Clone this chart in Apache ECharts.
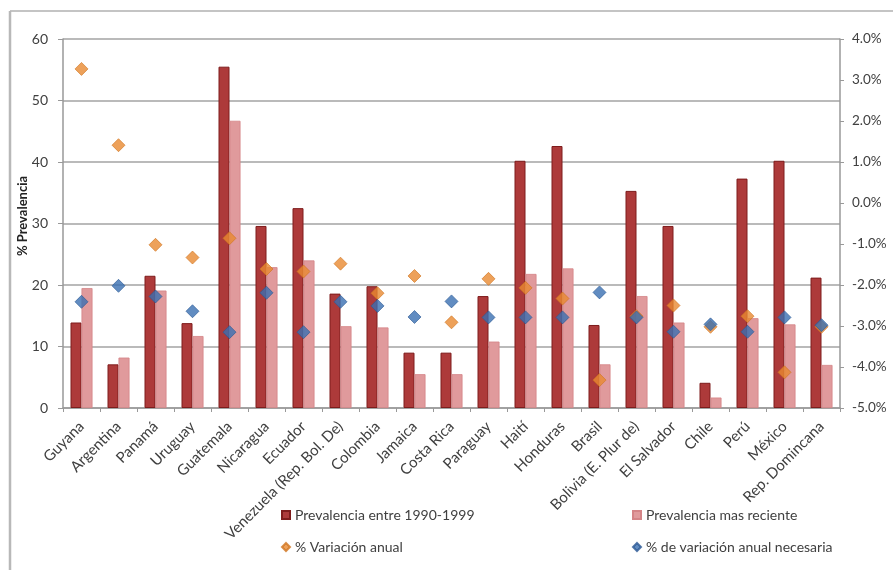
<!DOCTYPE html>
<html>
<head>
<meta charset="utf-8">
<script src="https://cdn.jsdelivr.net/npm/echarts@6/dist/echarts.min.js"></script>
<style>html,body{margin:0;padding:0;background:#fff;}#c{width:893px;height:570px;}</style>
</head>
<body>
<div id="c"></div>
<script>
const categories = ["Guyana","Argentina","Panamá","Uruguay","Guatemala","Nicaragua","Ecuador","Venezuela (Rep. Bol. De)","Colombia","Jamaica","Costa Rica","Paraguay","Haití","Honduras","Brasil","Bolivia (E. Plur de)","El Salvador","Chile","Perú","México","Rep. Domincana"];
const prev1990 = [13.9,7.1,21.5,13.8,55.5,29.6,32.5,18.6,19.8,9.0,9.0,18.2,40.2,42.6,13.5,35.3,29.6,4.1,37.3,40.2,21.2];
const prevReciente = [19.5,8.2,19.1,11.7,46.7,22.9,24.0,13.3,13.1,5.5,5.5,10.8,21.8,22.7,7.1,18.2,13.9,1.7,14.6,13.6,7.0];
const varAnual = [3.27,1.41,-1.02,-1.33,-0.86,-1.61,-1.67,-1.48,-2.20,-1.78,-2.91,-1.85,-2.07,-2.33,-4.32,-2.76,-2.50,-3.02,-2.76,-4.13,-3.02];
const varNecesaria = [-2.41,-2.02,-2.28,-2.64,-3.15,-2.19,-3.15,-2.41,-2.51,-2.78,-2.40,-2.79,-2.79,-2.79,-2.18,-2.79,-3.14,-2.96,-3.14,-2.79,-2.98];
const leftTicks = {min:0,max:60,interval:10};
const rightTicks = {min:-5,max:4,interval:1};
const yTitle = '% Prevalencia';

const FONT = 'Lato';
const TXT = '#404040';
const chart = echarts.init(document.getElementById('c'));
const legendText = {fontFamily: FONT, fontSize: 14, color: TXT};
chart.setOption({
  animation: false,
  textStyle: {fontFamily: FONT},
  graphic: [
    {type:'line', shape:{x1:10,y1:11,x2:900,y2:11}, style:{stroke:'#c4c4c4', lineWidth:2}},
    {type:'line', shape:{x1:10,y1:11,x2:10,y2:600}, style:{stroke:'#b8b8b8', lineWidth:2.5}},
    {type:'text', x:23, y:216, rotation:Math.PI/2,
     style:{text:yTitle, font:'bold 13px Lato', fill:'#222', align:'center', verticalAlign:'middle'}}
  ],
  grid: {left:63, right:53, top:39, bottom:162, containLabel:false, outerBoundsMode:'none'},
  legend: [
    {left:276, top:503, itemWidth:8, itemHeight:8, textStyle:legendText, data:[{name:'Prevalencia entre 1990-1999', icon:'rect'}]},
    {left:627, top:503, itemWidth:8, itemHeight:8, textStyle:legendText, data:[{name:'Prevalencia mas reciente', icon:'rect'}]},
    {left:276, top:535, itemWidth:8, itemHeight:8, textStyle:legendText, data:[{name:'% Variación anual', icon:'diamond'}]},
    {left:627, top:535, itemWidth:8, itemHeight:8, textStyle:legendText, data:[{name:'% de variación anual necesaria', icon:'diamond'}]}
  ],
  xAxis: {
    type:'category', data: categories,
    axisLine:{lineStyle:{color:'#999', width:1.5}},
    axisTick:{show:true, length:4, lineStyle:{color:'#999'}},
    axisLabel:{rotate:45, fontFamily:FONT, fontSize:15, color:TXT, margin:16, interval:0}
  },
  yAxis: [
    {type:'value', min:leftTicks.min, max:leftTicks.max, interval:leftTicks.interval,
     axisLine:{show:true, lineStyle:{color:'#999', width:1.5}},
     axisTick:{show:true, length:5, lineStyle:{color:'#999'}},
     axisLabel:{fontFamily:FONT, fontSize:14, color:TXT, margin:15},
     splitLine:{show:true, lineStyle:{color:'#a3a3a3', width:1.5}}},
    {type:'value', min:rightTicks.min, max:rightTicks.max, interval:rightTicks.interval, position:'right',
     axisLine:{show:true, lineStyle:{color:'#999', width:1.5}},
     axisTick:{show:true, length:4, lineStyle:{color:'#999'}},
     axisLabel:{fontFamily:FONT, fontSize:13.5, color:TXT, margin:12, formatter: v => v.toFixed(1) + '%'},
     splitLine:{show:false}}
  ],
  series: [
    {name:'Prevalencia entre 1990-1999', type:'bar', data: prev1990, barWidth:11, barGap:'0%',
     itemStyle:{color:'#ad3a3a', borderColor:'#7e1c1c', borderWidth:1}},
    {name:'Prevalencia mas reciente', type:'bar', data: prevReciente, barWidth:11,
     itemStyle:{color:'#e09a9c', borderColor:'#d48487', borderWidth:0.8}},
    {name:'% Variación anual', type:'scatter', yAxisIndex:1, data: varAnual, symbol:'diamond', symbolSize:13,
     itemStyle:{color:'#e98a31', borderColor:'#d07420', borderWidth:0.8}},
    {name:'% de variación anual necesaria', type:'scatter', yAxisIndex:1, data: varNecesaria, symbol:'diamond', symbolSize:13,
     itemStyle:{color:'#3a6fb2', borderColor:'#2a5894', borderWidth:0.8}}
  ]
});
</script>
</body>
</html>
